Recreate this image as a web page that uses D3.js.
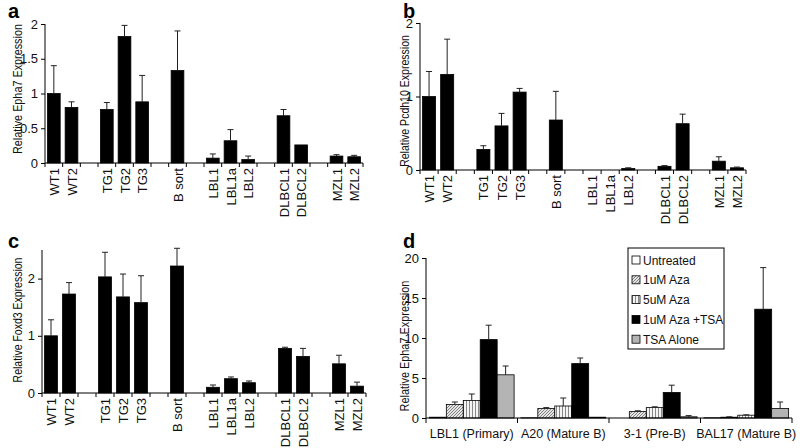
<!DOCTYPE html>
<html>
<head>
<meta charset="utf-8">
<script src="https://cdn.jsdelivr.net/npm/d3@7"></script>
<style>
  body { margin: 0; background: #fff; }
  svg { display: block; font-family: "Liberation Sans", Arial, sans-serif; }
</style>
</head>
<body>
<svg id="fig" width="800" height="448"></svg>
<script>
// categorias dos painéis a-c (null = espaço vazio entre grupos)
const slots = ["WT1", "WT2", null, "TG1", "TG2", "TG3", null, "B sort", null,
  "LBL1", "LBL1a", "LBL2", null, "DLBCL1", "DLBCL2", null, "MZL1", "MZL2"];
const amostras = slots.filter(s => s);

// a: Epha7
const epha7Val = [1.0, 0.8, 0.77, 1.82, 0.88, 1.33, 0.07, 0.32, 0.05, 0.68, 0.26, 0.1, 0.09];
const epha7Err = [0.4, 0.08, 0.1, 0.16, 0.38, 0.57, 0.06, 0.16, 0.05, 0.09, 0, 0.02, 0.02];
// b: Pcdh10
const pcdh10Val = [1.0, 1.3, 0.28, 0.6, 1.06, 0.68, 0, 0, 0.02, 0.05, 0.63, 0.12, 0.03];
const pcdh10Err = [0.34, 0.48, 0.05, 0.17, 0.05, 0.39, 0, 0, 0.01, 0.01, 0.13, 0.06, 0.01];
// c: Foxd3
const foxd3Val = [1.0, 1.73, 2.03, 1.68, 1.58, 2.22, 0.1, 0.25, 0.18, 0.78, 0.64, 0.51, 0.12];
const foxd3Err = [0.28, 0.2, 0.43, 0.4, 0.47, 0.31, 0.04, 0.03, 0.03, 0.02, 0.14, 0.15, 0.07];

// d: tratamentos por linhagem
const linhagens = ["LBL1 (Primary)", "A20 (Mature B)", "3-1 (Pre-B)", "BAL17 (Mature B)"];
const tratamentos = ["Untreated", "1uM Aza", "5uM Aza", "1uM Aza +TSA", "TSA Alone"];
const untreatedVal = [0.1, 0.03, 0, 0.03];
const untreatedErr = [0, 0, 0, 0];
const aza1Val = [1.7, 1.2, 0.8, 0.1];
const aza1Err = [0.3, 0.1, 0.1, 0.05];
const aza5Val = [2.2, 1.5, 1.3, 0.35];
const aza5Err = [0.8, 1.0, 0.1, 0.05];
const azaTsaVal = [9.8, 6.8, 3.2, 13.6];
const azaTsaErr = [1.8, 0.7, 0.9, 5.2];
const tsaVal = [5.4, 0.1, 0.15, 1.2];
const tsaErr = [1.1, 0, 0.15, 0.8];

const svg = d3.select("#fig");
const fonteTick = 13, fonteCat = 13, fonteTitulo = 12.5, fonteLeg = 12;

// padrões de preenchimento
const defs = svg.append("defs");
const diag = defs.append("pattern").attr("id", "diag")
  .attr("patternUnits", "userSpaceOnUse").attr("width", 3).attr("height", 3);
diag.append("rect").attr("width", 3).attr("height", 3).attr("fill", "#e4e4e4");
diag.append("path").attr("d", "M-1,1 l2,-2 M0,3 l3,-3 M2,4 l2,-2")
  .attr("stroke", "#777").attr("stroke-width", 0.9);
const vert = defs.append("pattern").attr("id", "vert")
  .attr("patternUnits", "userSpaceOnUse").attr("width", 3).attr("height", 3);
vert.append("rect").attr("width", 3).attr("height", 3).attr("fill", "#f4f4f4");
vert.append("line").attr("x1", 1.5).attr("x2", 1.5).attr("y1", 0).attr("y2", 3)
  .attr("stroke", "#888").attr("stroke-width", 1);

const corTrat = ["#ffffff", "url(#diag)", "url(#vert)", "#000000", "#b4b4b4"];

function barrasEB(g, y, dados, w) {
  // barras
  g.selectAll("rect.bar").data(dados).join("rect").attr("class", "bar")
    .attr("x", d => d.x).attr("width", w)
    .attr("y", d => y(d.v)).attr("height", d => y(0) - y(d.v))
    .attr("fill", d => d.fill || "#000")
    .attr("stroke", "#000").attr("stroke-width", 0.8);
  // barras de erro (somente para cima)
  const eb = dados.filter(d => d.e > 0);
  g.selectAll("line.eb").data(eb).join("line").attr("class", "eb")
    .attr("x1", d => d.x + w / 2).attr("x2", d => d.x + w / 2)
    .attr("y1", d => y(d.v)).attr("y2", d => y(d.v + d.e))
    .attr("stroke", "#222").attr("stroke-width", 1);
  g.selectAll("line.cap").data(eb).join("line").attr("class", "cap")
    .attr("x1", d => d.x + w / 2 - 3).attr("x2", d => d.x + w / 2 + 3)
    .attr("y1", d => y(d.v + d.e)).attr("y2", d => y(d.v + d.e))
    .attr("stroke", "#222").attr("stroke-width", 1);
}

function eixoY(g, y, ticks, x0) {
  const ax = g.append("g").attr("transform", `translate(${x0},0)`)
    .call(d3.axisLeft(y).tickValues(ticks).tickSize(4).tickPadding(3).tickFormat(d3.format("")));
  ax.select(".domain").attr("d", `M0,${y.range()[0]}V${y.range()[1]}`).attr("stroke", "#000");
  ax.selectAll("text").attr("font-size", fonteTick).attr("fill", "#111").attr("font-family", null);
  ax.selectAll("line").attr("stroke", "#000");
}

// título do eixo y, comprimido no comprimento para ficar como no original
function tituloY(g, tx, cy, texto, comp) {
  const t = g.append("text")
    .attr("text-anchor", "middle").attr("font-size", fonteTitulo).attr("fill", "#111")
    .text(texto);
  const larg = t.node().getComputedTextLength();
  t.attr("transform", `translate(${tx},${cy}) rotate(-90) scale(${comp / larg},1)`);
}

function painelAmostras(cfg) {
  const g = svg.append("g");
  const x = d3.scaleBand().domain(d3.range(slots.length)).range([cfg.x0, cfg.x1]).padding(0);
  const y = d3.scaleLinear().domain([0, cfg.max]).range([cfg.y0, cfg.yTop]);
  const bw = x.bandwidth() * 0.72;
  const dados = [];
  slots.forEach((s, i) => {
    if (!s) return;
    const k = amostras.indexOf(s);
    dados.push({ x: x(i) + (x.bandwidth() - bw) / 2, v: cfg.val[k], e: cfg.err[k] });
  });
  barrasEB(g, y, dados, bw);

  // eixo x com marcas nas divisas das categorias
  g.append("line").attr("x1", cfg.x0).attr("x2", cfg.x1).attr("y1", cfg.y0).attr("y2", cfg.y0)
    .attr("stroke", "#000");
  g.selectAll("line.xt").data(d3.range(slots.length + 1)).join("line").attr("class", "xt")
    .attr("x1", i => cfg.x0 + i * x.step()).attr("x2", i => cfg.x0 + i * x.step())
    .attr("y1", cfg.y0).attr("y2", cfg.y0 + 4).attr("stroke", "#000");
  g.selectAll("text.xl").data(slots.map((s, i) => ({ s, i })).filter(d => d.s)).join("text")
    .attr("class", "xl")
    .attr("transform", d => `translate(${x(d.i) + x.bandwidth() / 2 + 5},${cfg.y0 + 5}) rotate(-90)`)
    .attr("text-anchor", "end").attr("font-size", fonteCat).attr("fill", "#111")
    .text(d => d.s);

  eixoY(g, y, cfg.ticks, cfg.x0);
  tituloY(g, cfg.tx, cfg.ty, cfg.titulo, cfg.comp);
  g.append("text").attr("x", cfg.lx).attr("y", cfg.ly)
    .attr("font-size", 20).attr("font-weight", "bold").text(cfg.letra);
}

painelAmostras({ x0: 45, x1: 363, y0: 163, yTop: 24, max: 2, ticks: [0, 0.5, 1, 1.5, 2],
  val: epha7Val, err: epha7Err, titulo: "Relative Epha7 Expression", tx: 22, ty: 89, comp: 130,
  letra: "a", lx: 8, ly: 18 });
painelAmostras({ x0: 420, x1: 746, y0: 170, yTop: 23, max: 2, ticks: [0, 1, 2],
  val: pcdh10Val, err: pcdh10Err, titulo: "Relative Pcdh10 Expression", tx: 409, ty: 101, comp: 132,
  letra: "b", lx: 403, ly: 18 });
painelAmostras({ x0: 42, x1: 366, y0: 393, yTop: 250, max: 2.5, ticks: [0, 1, 2],
  val: foxd3Val, err: foxd3Err, titulo: "Relative Foxd3 Expression", tx: 22, ty: 320, comp: 125,
  letra: "c", lx: 8, ly: 248 });

// painel d
(function () {
  const g = svg.append("g");
  const x0 = 426, x1 = 792, y0 = 418, yTop = 258;
  const x = d3.scaleBand().domain(linhagens).range([x0, x1]).padding(0);
  const xi = d3.scaleBand().domain(tratamentos).range([0, x.bandwidth()]).paddingInner(0).paddingOuter(0.2);
  const y = d3.scaleLinear().domain([0, 20]).range([y0, yTop]);
  const series = [
    [untreatedVal, untreatedErr], [aza1Val, aza1Err], [aza5Val, aza5Err],
    [azaTsaVal, azaTsaErr], [tsaVal, tsaErr]
  ];
  const dados = [];
  linhagens.forEach((l, i) => {
    tratamentos.forEach((t, j) => {
      dados.push({ x: x(l) + xi(t), v: series[j][0][i], e: series[j][1][i], fill: corTrat[j] });
    });
  });
  barrasEB(g, y, dados, xi.bandwidth());

  const ax = g.append("g").attr("transform", `translate(0,${y0})`)
    .call(d3.axisBottom(x).tickSize(0).tickPadding(11));
  ax.select(".domain").attr("d", `M${x0},0H${x1}`).attr("stroke", "#000");
  ax.selectAll("text").attr("font-size", 12.5).attr("fill", "#111").attr("font-family", null);
  g.selectAll("line.xt").data(d3.range(linhagens.length + 1)).join("line").attr("class", "xt")
    .attr("x1", i => x0 + i * x.step()).attr("x2", i => x0 + i * x.step())
    .attr("y1", y0).attr("y2", y0 + 5).attr("stroke", "#000");

  eixoY(g, y, [0, 5, 10, 15, 20], x0);
  tituloY(g, 409, 346, "Relative Epha7 Expression", 131);
  g.append("text").attr("x", 403).attr("y", 248)
    .attr("font-size", 20).attr("font-weight", "bold").text("d");

  // legenda
  const lg = g.append("g").attr("transform", "translate(628,248)");
  lg.append("rect").attr("width", 96).attr("height", 101)
    .attr("fill", "#fff").attr("stroke", "#000").attr("stroke-width", 1);
  tratamentos.forEach((t, j) => {
    const yy = 12 + j * 19.8;
    lg.append("rect").attr("x", 4).attr("y", yy - 4).attr("width", 8).attr("height", 8)
      .attr("fill", corTrat[j]).attr("stroke", "#000").attr("stroke-width", 0.8);
    lg.append("text").attr("x", 15).attr("y", yy + 4.5).attr("font-size", fonteLeg).attr("fill", "#111").text(t);
  });
})();
</script>
</body>
</html>
